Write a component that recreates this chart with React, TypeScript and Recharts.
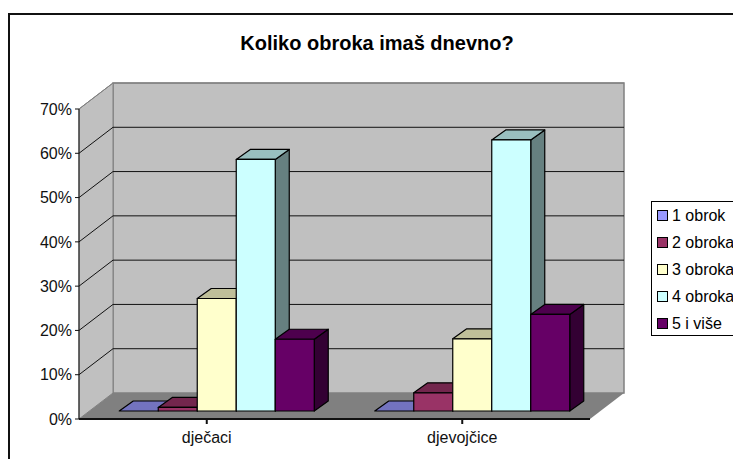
import { BarChart, Bar, XAxis, YAxis, CartesianGrid } from 'recharts'

const CATEGORIES = ['dječaci', 'djevojčice']
const SERIES_NAMES = ['1 obrok', '2 obroka', '3 obroka', '4 obroka', '5 i više']
const OBROK_1 = [0, 0]
const OBROKA_2 = [0.8, 4.1]
const OBROKA_3 = [25.4, 16.3]
const OBROKA_4 = [56.8, 61.2]
const VISE_5 = [16.2, 21.8]
const Y_TICKS = [0, 10, 20, 30, 40, 50, 60, 70]

// face / top / side colours, the way Excel shades its 3D columns
const FACE = ['#9999FF', '#993366', '#FFFFCC', '#CCFFFF', '#660066']
const TOP = ['#7373BF', '#73264D', '#BFBF99', '#99BFBF', '#4D004D']
const SIDE = ['#4D4D80', '#4D1A33', '#808066', '#668080', '#330033']

const data = CATEGORIES.map((name, i) => ({
    name,
    s0: OBROK_1[i],
    s1: OBROKA_2[i],
    s2: OBROKA_3[i],
    s3: OBROKA_4[i],
    s4: VISE_5[i],
}))

const FONT = '"Liberation Sans", Arial, sans-serif'
const WALL_DX = 34
const WALL_DY = 26
const BAR_SHIFT_X = 10.5
const BAR_SHIFT_Y = 8
const BAR_DX = 14
const BAR_DY = 10

// back wall, side wall and floor of the fake 3D box
function Walls({ l, r, t, b }: { l: number; r: number; t: number; b: number }) {
    return (
        <g>
            <rect x={l + WALL_DX} y={t - WALL_DY} width={r - l} height={b - t} fill="#C0C0C0" stroke="#808080" strokeWidth={1.5} />
            <polygon points={`${l},${b} ${l},${t} ${l + WALL_DX},${t - WALL_DY} ${l + WALL_DX},${b - WALL_DY}`} fill="#C0C0C0" stroke="#808080" strokeWidth={1} />
            <polygon points={`${l},${b} ${l + WALL_DX},${b - WALL_DY} ${r + WALL_DX},${b - WALL_DY} ${r},${b}`} fill="#808080" />
        </g>
    )
}

// the grid's first line also paints the box, so it stays under the other lines
function GridLine(props: any) {
    const { x1, x2, y1, index, y, height } = props
    if (index === 0) return <Walls l={x1} r={x2} t={y} b={y + height} />
    const isTop = index === Y_TICKS.length - 1
    return (
        <polyline
            points={`${x1},${y1} ${x1 + WALL_DX},${y1 - WALL_DY} ${x2 + WALL_DX},${y1 - WALL_DY}`}
            fill="none"
            stroke={isTop ? '#808080' : '#111'}
            strokeWidth={1}
        />
    )
}

function Column3D(props: any) {
    const { x, y, width, height, seriesIndex } = props
    const left = x + BAR_SHIFT_X
    const right = left + width
    const top = y - BAR_SHIFT_Y
    const bottom = top + height
    const line = { stroke: '#000', strokeWidth: 1.2, strokeLinejoin: 'round' as const }
    return (
        <g>
            {height > 0 && (
                <polygon
                    points={`${right},${top} ${right + BAR_DX},${top - BAR_DY} ${right + BAR_DX},${bottom - BAR_DY} ${right},${bottom}`}
                    fill={SIDE[seriesIndex]}
                    {...line}
                />
            )}
            <polygon
                points={`${left},${top} ${left + BAR_DX},${top - BAR_DY} ${right + BAR_DX},${top - BAR_DY} ${right},${top}`}
                fill={TOP[seriesIndex]}
                {...line}
            />
            {height > 0 && <rect x={left} y={top} width={width} height={height} fill={FACE[seriesIndex]} {...line} />}
        </g>
    )
}

function LegendBox() {
    return (
        <div style={{ position: 'absolute', left: 651, top: 201, border: '1px solid #000', background: '#fff', width: 100, height: 135, boxSizing: 'border-box', padding: '0 0 0 5px', fontFamily: FONT, fontSize: 16, color: '#000' }}>
            {SERIES_NAMES.map((name, i) => (
                <div key={name} style={{ display: 'flex', alignItems: 'center', height: 27, whiteSpace: 'nowrap' }}>
                    <span style={{ width: 9, height: 9, background: FACE[i], border: '1px solid #000', marginRight: 4, flex: 'none' }} />
                    {name}
                </div>
            ))}
        </div>
    )
}

export default function App() {
    return (
        <div style={{ position: 'absolute', left: 0, top: 0, width: 733, height: 459, overflow: 'hidden', background: '#fff' }}>
            <div style={{ position: 'absolute', left: 8, top: 13, width: 800, height: 500, border: '2px solid #111', boxSizing: 'border-box' }} />
            <div style={{ position: 'absolute', left: 0, top: 32, width: 754, textAlign: 'center', fontFamily: FONT, fontSize: 20, fontWeight: 'bold', color: '#000', lineHeight: '22px' }}>
                Koliko obroka imaš dnevno?
            </div>
            <BarChart
                width={733}
                height={459}
                data={data}
                margin={{ top: 109, right: 143, bottom: 10, left: 0 }}
                barCategoryGap={29.75}
                barGap={0}
                style={{ position: 'absolute', left: 0, top: 0 }}
            >
                <CartesianGrid vertical={false} horizontal={(p: any) => <GridLine key={p.key} {...p} />} />
                <XAxis
                    dataKey="name"
                    stroke="#111"
                    strokeWidth={2}
                    tickSize={5}
                    tickMargin={8}
                    tick={{ fill: '#111', fontFamily: FONT, fontSize: 16 }}
                />
                <YAxis
                    width={79}
                    domain={[0, 70]}
                    ticks={Y_TICKS}
                    tickFormatter={(v: number) => `${v}%`}
                    stroke="#111"
                    tickSize={4}
                    tickMargin={3}
                    tick={{ fill: '#111', fontFamily: FONT, fontSize: 16 }}
                />
                {SERIES_NAMES.map((name, i) => (
                    <Bar
                        key={name}
                        dataKey={`s${i}`}
                        name={name}
                        fill={FACE[i]}
                        isAnimationActive={false}
                        shape={(p: any) => <Column3D {...p} seriesIndex={i} />}
                    />
                ))}
            </BarChart>
            <LegendBox />
        </div>
    )
}
